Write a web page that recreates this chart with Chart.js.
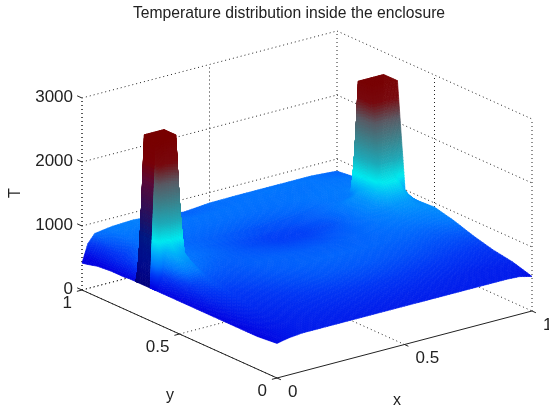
<!DOCTYPE html>
<html>
<head>
<meta charset="utf-8">
<title>Temperature distribution inside the enclosure</title>
<style>
  html, body { margin: 0; padding: 0; background: #fff; }
  canvas { display: block; }
</style>
<script src="https://cdn.jsdelivr.net/npm/chart.js@4"></script>
</head>
<body>
<canvas id="chart" width="549" height="410"></canvas>
<script>
// grid positions of the surface (not even: the two columns need close nodes)
const xs = [0, .023, .05, .1, .12, .2, .3, .4, .5, .6, .7, .8, .86, .88, .9, .95, 1];
const ys = [0, .1, .2, .3, .4, .5, .58, .62, .65, .69, .71, .725, .76, .78, .85, .92, .97, 1];

// temperature, one row per ys value, one column per xs value
const temps = [
  [540, 560, 580, 600, 600, 600, 600, 600, 600, 600, 600, 600, 600, 600, 600, 590, 540],
  [510, 540, 570, 600, 610, 630, 640, 650, 650, 650, 640, 630, 620, 620, 620, 620, 630],
  [510, 545, 590, 630, 635, 660, 690, 710, 720, 720, 710, 700, 690, 690, 690, 680, 680],
  [510, 555, 610, 670, 670, 700, 740, 770, 780, 780, 770, 760, 750, 750, 750, 750, 760],
  [510, 570, 650, 720, 710, 740, 780, 800, 810, 810, 810, 810, 810, 810, 810, 830, 860],
  [510, 590, 720, 790, 770, 770, 800, 800, 790, 790, 810, 840, 860, 870, 880, 900, 935],
  [510, 620, 1020, 950, 840, 800, 790, 770, 750, 750, 790, 850, 900, 930, 960, 980, 920],
  [510, 700, 1230, 1060, 850, 820, 790, 760, 730, 730, 770, 860, 950, 1020, 1120, 1200, 920],
  [510, 2800, 2800, 2800, 860, 830, 790, 750, 720, 720, 760, 860, 950, 1100, 1350, 1350, 950],
  [510, 2800, 2800, 2800, 860, 830, 790, 750, 720, 730, 780, 860, 950, 1100, 2650, 2650, 2650],
  [510, 2800, 2800, 2800, 860, 830, 790, 760, 730, 740, 790, 860, 950, 1100, 2650, 2650, 2650],
  [510, 790, 800, 880, 860, 830, 800, 770, 750, 760, 800, 860, 950, 1050, 2650, 2650, 2650],
  [510, 720, 790, 870, 860, 820, 800, 780, 760, 770, 800, 850, 860, 900, 2650, 2650, 2650],
  [500, 690, 770, 850, 850, 820, 810, 800, 790, 800, 820, 850, 860, 870, 900, 880, 870],
  [500, 650, 720, 820, 830, 830, 830, 830, 830, 830, 840, 850, 860, 860, 860, 860, 855],
  [480, 620, 750, 840, 850, 850, 840, 840, 840, 840, 840, 840, 850, 850, 850, 850, 840],
  [440, 620, 800, 860, 870, 880, 830, 810, 830, 840, 850, 850, 850, 850, 840, 830, 820],
  [420, 700, 830, 860, 870, 885, 850, 800, 835, 840, 840, 840, 840, 840, 840, 825, 810]
];

const xTicks = [0, 0.5, 1];
const yTicks = [0, 0.5, 1];
const tTicks = [0, 1000, 2000, 3000];

// colormap stops
const mapT = [500, 700, 850, 1050, 1230, 1500, 1800, 2100, 2400, 2800];
const mapR = [0, 0, 0, 0, 0, 30, 60, 90, 120, 120];
const mapG = [0, 55, 118, 175, 235, 170, 130, 90, 10, 0];
const mapB = [225, 245, 255, 250, 240, 185, 140, 100, 15, 0];

// view of the box
function project(x, y, t) {
  return { x: 277 + 255 * x - 195 * y, y: 378 - 67 * x - 88 * y - 0.064 * t };
}

function colorAt(t, dark) {
  let k = 0;
  while (k < mapT.length - 2 && t > mapT[k + 1]) k++;
  let f = (t - mapT[k]) / (mapT[k + 1] - mapT[k]);
  f = Math.max(0, Math.min(1, f));
  let r = mapR[k] + (mapR[k + 1] - mapR[k]) * f;
  let g = mapG[k] + (mapG[k + 1] - mapG[k]) * f;
  let b = mapB[k] + (mapB[k + 1] - mapB[k]) * f;
  if (dark) { g *= 0.1; b *= 0.55; }
  return `rgb(${r | 0},${g | 0},${b | 0})`;
}

// box lines
function seg(a, b) { return [project(...a), project(...b)]; }

const dotted = [];
tTicks.forEach(t => {
  dotted.push(seg([0, 1, t], [1, 1, t]));
  dotted.push(seg([1, 1, t], [1, 0, t]));
});
xTicks.forEach(x => {
  dotted.push(seg([x, 1, 0], [x, 1, 3000]));
  if (x < 1) dotted.push(seg([x, 0, 0], [x, 1, 0]));
});
yTicks.forEach(y => {
  if (y < 1) dotted.push(seg([1, y, 0], [1, y, 3000]));
  if (y > 0) dotted.push(seg([0, y, 0], [1, y, 0]));
});
dotted.push(seg([0, 1, 0], [0, 1, 3000]));

const solid = [seg([0, 0, 0], [1, 0, 0]), seg([0, 0, 0], [0, 1, 0])];
xTicks.forEach(x => solid.push(seg([x, 0, 0], [x, -0.02, 0])));
yTicks.forEach(y => solid.push(seg([0, y, 0], [-0.02, y, 0])));
tTicks.forEach(t => solid.push(seg([0, 1, t], [0, 1.025, t])));

const datasets = [];
dotted.forEach(d => datasets.push({ data: d, showLine: true, pointRadius: 0, borderColor: '#222', borderWidth: 1, borderDash: [1, 3] }));
solid.forEach(d => datasets.push({ data: d, showLine: true, pointRadius: 0, borderColor: '#222', borderWidth: 1 }));

// surface, painted from the back corner to the front one
const surfacePlugin = {
  id: 'surface',
  afterDatasetsDraw(chart) {
    const ctx = chart.ctx;
    const sx = chart.scales.x, sy = chart.scales.y;
    const px = (x, y, t) => {
      const p = project(x, y, t);
      return [sx.getPixelForValue(p.x), sy.getPixelForValue(p.y)];
    };
    const layer = document.createElement('canvas');
    layer.width = chart.width;
    layer.height = chart.height;
    const lc = layer.getContext('2d');
    lc.lineWidth = 0.7;
    for (let i = xs.length - 2; i >= 0; i--) {
      for (let j = ys.length - 2; j >= 0; j--) {
        const x0 = xs[i], x1 = xs[i + 1], y0 = ys[j], y1 = ys[j + 1];
        const t00 = temps[j][i], t10 = temps[j][i + 1], t01 = temps[j + 1][i], t11 = temps[j + 1][i + 1];
        // the wall at the x=0 edge is in shade
        const dark = i === 0 && ((t10 - t00) + (t11 - t01)) / 2 / (x1 - x0) > 55000;
        const a = px(x0, y0, t00), b = px(x1, y0, t10), c = px(x1, y1, t11), d = px(x0, y1, t01);
        const nu = Math.min(40, Math.ceil(Math.max(Math.hypot(a[0] - b[0], a[1] - b[1]), Math.hypot(c[0] - d[0], c[1] - d[1])) / 3));
        const nv = Math.min(40, Math.ceil(Math.max(Math.hypot(a[0] - d[0], a[1] - d[1]), Math.hypot(b[0] - c[0], b[1] - c[1])) / 3));
        const tAt = (u, v) => t00 * (1 - u) * (1 - v) + t10 * u * (1 - v) + t11 * u * v + t01 * (1 - u) * v;
        const at = (u, v) => px(x0 + (x1 - x0) * u, y0 + (y1 - y0) * v, tAt(u, v));
        for (let m = nu - 1; m >= 0; m--) {
          for (let n = nv - 1; n >= 0; n--) {
            const u0 = m / nu, u1 = (m + 1) / nu, v0 = n / nv, v1 = (n + 1) / nv;
            const col = colorAt(tAt((u0 + u1) / 2, (v0 + v1) / 2), dark);
            const p1 = at(u0, v0), p2 = at(u1, v0), p3 = at(u1, v1), p4 = at(u0, v1);
            lc.beginPath();
            lc.moveTo(p1[0], p1[1]);
            lc.lineTo(p2[0], p2[1]);
            lc.lineTo(p3[0], p3[1]);
            lc.lineTo(p4[0], p4[1]);
            lc.closePath();
            lc.fillStyle = col;
            lc.strokeStyle = col;
            lc.fill();
            lc.stroke();
          }
        }
      }
    }
    // the photo of the original is soft, so soften the surface as well
    ctx.save();
    ctx.filter = 'blur(0.5px)';
    ctx.drawImage(layer, 0, 0);
    ctx.restore();

    // tick and axis labels
    const font = '"Liberation Sans", Arial, sans-serif';
    ctx.save();
    ctx.fillStyle = '#222';
    ctx.textBaseline = 'middle';
    ctx.font = '17px ' + font;
    ctx.textAlign = 'right';
    tTicks.forEach(t => {
      const p = px(0, 1, t);
      ctx.fillText(String(t), p[0] - 9, p[1] - 1);
    });
    yTicks.forEach(y => {
      const p = px(0, y, 0);
      ctx.fillText(String(y), p[0] - 10, p[1] + 13);
    });
    ctx.textAlign = 'left';
    xTicks.forEach(x => {
      const p = px(x, 0, 0);
      ctx.fillText(String(x), p[0] + 11, p[1] + 14);
    });
    ctx.textAlign = 'center';
    ctx.font = '16px ' + font;
    ctx.fillText('x', sx.getPixelForValue(397), sy.getPixelForValue(401));
    ctx.fillText('y', sx.getPixelForValue(170), sy.getPixelForValue(396));
    ctx.translate(sx.getPixelForValue(16), sy.getPixelForValue(193));
    ctx.rotate(-Math.PI / 2);
    ctx.fillText('T', 0, 0);
    ctx.restore();
  }
};

new Chart(document.getElementById('chart').getContext('2d'), {
  type: 'scatter',
  data: { datasets: datasets },
  plugins: [surfacePlugin],
  options: {
    responsive: false,
    animation: false,
    layout: { padding: { left: 29 } },
    plugins: {
      legend: { display: false },
      tooltip: { enabled: false },
      title: {
        display: true,
        text: 'Temperature distribution inside the enclosure',
        color: '#222',
        font: { family: '"Liberation Sans", Arial, sans-serif', size: 15.7, weight: 'normal', lineHeight: '18px' },
        padding: { top: 5, bottom: 2 }
      }
    },
    scales: {
      x: { type: 'linear', display: false, min: 29, max: 549 },
      y: { type: 'linear', display: false, min: 25, max: 410, reverse: true }
    }
  }
});
</script>
</body>
</html>
